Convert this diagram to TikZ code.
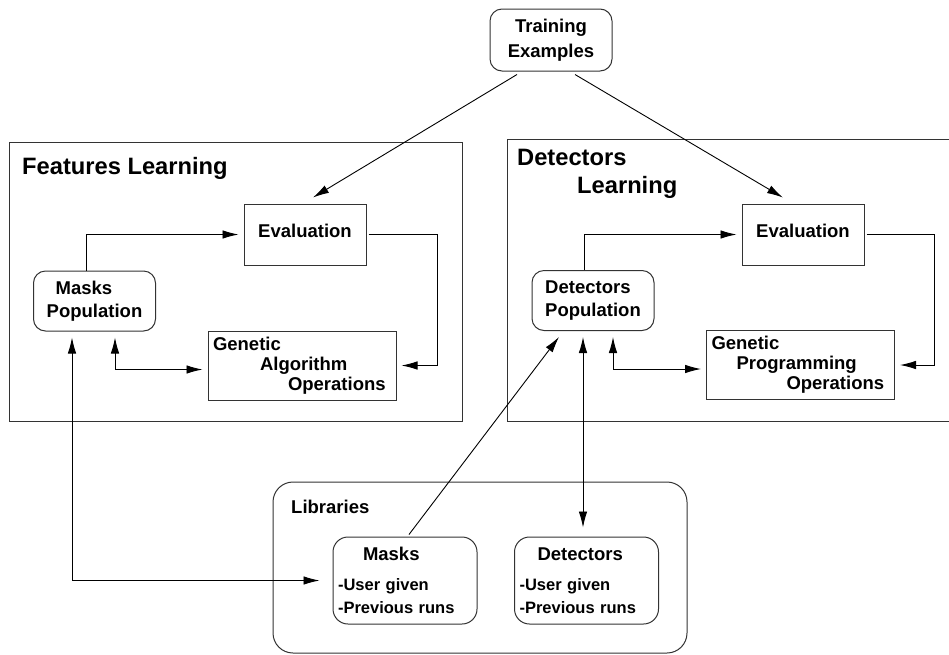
\documentclass[tikz,border=0pt]{standalone}
\usepackage{fontspec}
\setmainfont{Liberation Sans}
\usetikzlibrary{arrows.meta,positioning}

\newcommand\titlefont{\fontsize{23.7}{28}\selectfont\bfseries}
\newcommand\boxfont{\fontsize{18.5}{23.5}\selectfont\bfseries}
\newcommand\opsfont{\fontsize{18.5}{20}\selectfont\bfseries}
\newcommand\itemfont{\fontsize{16.5}{23}\selectfont\bfseries}

\tikzset{
frame/.style={
  draw=black!80,
  line width=1pt
},
evalbox/.style={
  draw=black!80,
  line width=1pt,
  font=\boxfont,
  minimum width=122pt,
  minimum height=61pt,
  text depth=7pt
},
popbox/.style={
  draw=black!80,
  line width=1pt,
  rounded corners=12pt,
  align=left,
  font=\boxfont,
  minimum width=122pt,
  minimum height=60pt
},
opsbox/.style={
  draw=black!80,
  line width=1pt,
  align=left,
  font=\opsfont,
  text width=178pt,
  inner xsep=5pt,
  minimum height=69pt
},
libbox/.style={
  draw=black!80,
  line width=1pt,
  rounded corners=15pt,
  align=left,
  font=\itemfont,
  text width=134pt,
  inner xsep=5pt,
  minimum height=87pt
},
titletext/.style={
  inner sep=0pt,
  font=\titlefont
},
flow/.style={
  -{Latex[length=16pt,width=8.5pt]},
  line width=0.9pt,
  shorten >=5pt
},
biflow/.style={
  {Latex[length=16pt,width=8.5pt]}-{Latex[length=16pt,width=8.5pt]},
  line width=0.9pt,
  shorten <=6pt,
  shorten >=5pt
}
}

\begin{document}
\begin{tikzpicture}[x=1pt,y=-1pt]
\useasboundingbox (0,0) rectangle (949,654);

% learning frames and the libraries frame
\draw[frame] (9,142) rectangle (462,421);
\draw[frame] (507,139) rectangle (960,421);
\draw[frame, rounded corners=20pt] (273,482) rectangle (687,653);

\node[titletext, anchor=base west] (feattitle) at (22,174) {Features Learning};
\node[titletext, anchor=north west, align=left] (dettitle) at (517,149) {Detectors\\\hspace*{60pt}Learning};
\node[inner sep=0pt, font=\boxfont, anchor=base west] (libtitle) at (291,513) {Libraries};

\node[popbox, align=center, minimum height=62pt, font=\fontsize{18.5}{25}\selectfont\bfseries] (te) at (551,40) {Training\\Examples};

% features learning
\node[evalbox] (evalL) at (305,234.5) {Evaluation};
\node[popbox] (mp) at (94.5,301) {\hspace*{9pt}Masks\\Population};
\node[opsbox] (gao) at (302,365.5) {Genetic\\\hspace*{47pt}Algorithm\\\hspace*{75pt}Operations};

% detectors learning
\node[evalbox] (evalR) at (803,234.5) {Evaluation};
\node[popbox] (dp) at (593,300.5) {Detectors\\Population};
\node[opsbox] (gpo) at (800.5,365) {Genetic\\\hspace*{25pt}Programming\\\hspace*{75pt}Operations};

% libraries
\node[libbox] (masklib) at (405,580.5) {\hspace*{25pt}{\boxfont Masks}\\[7pt]-User given\\-Previous runs};
\node[libbox] (detlib) at (586.5,580.5) {\hspace*{18pt}{\boxfont Detectors}\\[7pt]-User given\\-Previous runs};

\draw[flow, shorten >=11.7pt] ([xshift=-34pt,yshift=-3pt]te.south) -- ([xshift=-2pt]evalL.north);
\draw[flow, shorten >=11.7pt] ([xshift=24pt,yshift=-3pt]te.south) -- ([xshift=-10pt]evalR.north);

\draw[flow] ([xshift=-8.5pt]mp.north) |- (evalL.west);
\draw[flow] ([xshift=2pt]evalL.east) -| ([xshift=41pt]gao.east) -- (gao.east);
\draw[biflow] ([xshift=20.5pt]mp.south) |- ([yshift=-4pt]gao.west);
\draw[biflow, shorten >=13pt] ([xshift=-22.5pt]mp.south) |- (masklib.west);

\draw[flow] ([xshift=-9pt]dp.north) |- (evalR.west);
\draw[flow] ([xshift=2pt]evalR.east) -| ([xshift=39pt]gpo.east) -- (gpo.east);
\draw[biflow] ([xshift=20pt]dp.south) |- ([yshift=-4pt]gpo.west);
\draw[biflow, shorten >=9pt] ([xshift=-10pt]dp.south) -- ([xshift=-10pt]dp.south |- detlib.north);
\draw[flow, shorten >=7.5pt] ([xshift=4pt,yshift=2pt]masklib.north) -- ([xshift=-29.5pt]dp.south);

\end{tikzpicture}
\end{document}
